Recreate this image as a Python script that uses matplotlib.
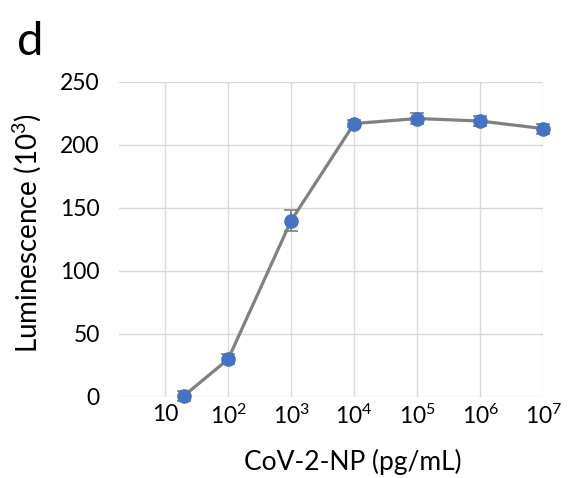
import numpy as np
import matplotlib.pyplot as plt

# ----------------------------------------------------
# Data
# ----------------------------------------------------

conc = [20, 1e2, 1e3, 1e4, 1e5, 1e6, 1e7]
lum = [1, 30, 140, 217, 221, 219, 213]
lum_err = [4, 4, 8, 3, 4, 4, 4]

x_ticks = [10, 1e2, 1e3, 1e4, 1e5, 1e6, 1e7]
x_labels = ["10", r"$\mathregular{10^2}$", r"$\mathregular{10^3}$",
            r"$\mathregular{10^4}$", r"$\mathregular{10^5}$",
            r"$\mathregular{10^6}$", r"$\mathregular{10^7}$"]
y_ticks = [0, 50, 100, 150, 200, 250]

plt.rcParams["font.family"] = ["Lato", "DejaVu Sans"]

# ----------------------------------------------------
# Plot
# ----------------------------------------------------

fig = plt.figure(figsize=(5.7, 4.78), dpi=100)
ax = fig.add_axes([0.209, 0.1695, 0.744, 0.659])

ax.plot(conc, lum, color="#808080", linewidth=2.3, zorder=2, clip_on=False)
ax.errorbar(conc, lum, yerr=lum_err, fmt="none", ecolor="#7f7f7f",
            elinewidth=1.2, capsize=5, capthick=1.2, zorder=3, clip_on=False)
ax.plot(conc, lum, "o", color="#4472C4", markersize=9.5, zorder=4,
        clip_on=False)

ax.set_xscale("log")
ax.set_xlim(10 ** 0.27, 1e7)
ax.set_ylim(0, 250)

ax.set_xticks(x_ticks)
ax.set_xticklabels(x_labels)
ax.xaxis.set_minor_locator(plt.NullLocator())
ax.set_yticks(y_ticks)

ax.grid(True, color="#d9d9d9", linewidth=1.0)
ax.set_axisbelow(True)
for s in ax.spines.values():
    s.set_visible(False)

ax.tick_params(axis="both", length=0, labelsize=16.5, colors="black")
ax.tick_params(axis="y", pad=14)
ax.tick_params(axis="x", pad=5)

ax.set_xlabel("CoV-2-NP (pg/mL)", fontsize=19)
ax.xaxis.set_label_coords(0.55, -0.165)
ax.set_ylabel(r"Luminescence (10$\mathregular{^3}$)", fontsize=20)
ax.yaxis.set_label_coords(-0.18, 0.52)

fig.text(0.03, 0.885, "d", fontsize=34)

plt.savefig("out.png", dpi=100)
plt.close()
